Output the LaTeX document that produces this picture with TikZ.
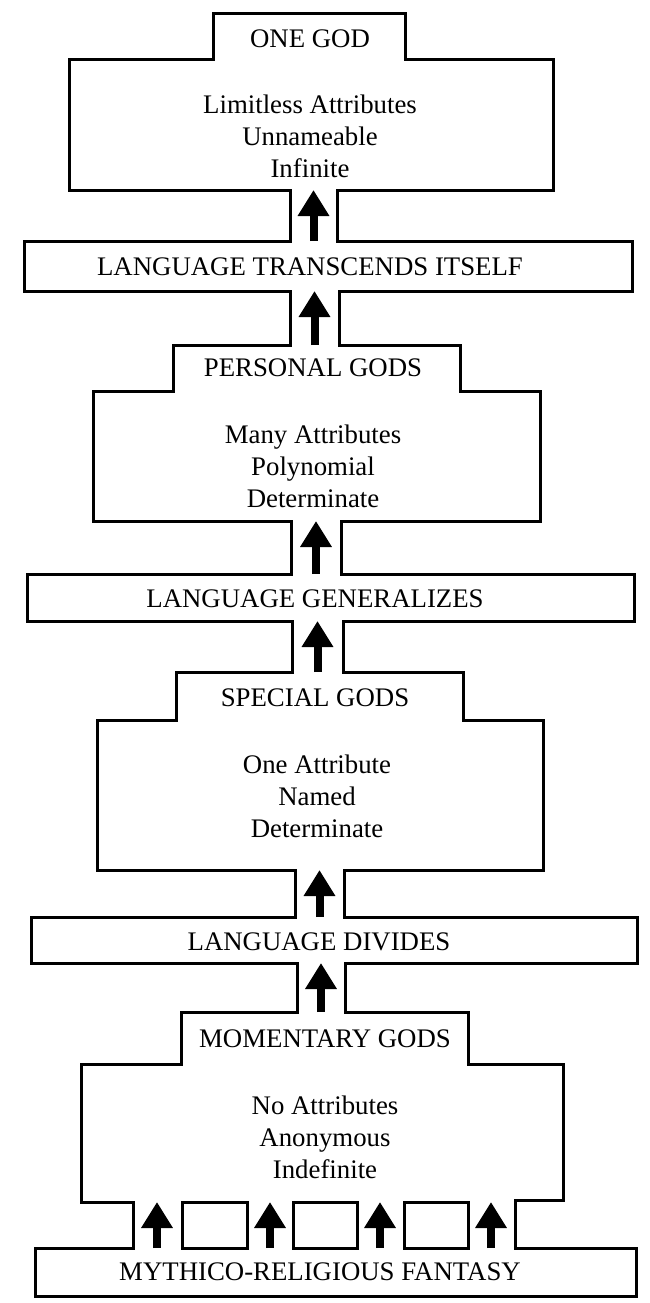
\documentclass[tikz,border=0pt]{standalone}
\usepackage{fontspec}
\setmainfont{Liberation Serif}
\usetikzlibrary{arrows.meta}

\begin{document}
\begin{tikzpicture}[x=1pt, y=-1pt,
  every node/.style={font=\fontsize{26.8}{32}\selectfont, inner sep=0pt},
  body/.style={align=center},
  wall/.style={line width=3pt, line join=miter},
  lift/.style={line width=8pt, -{Triangle[width=30pt,length=26pt]}}]
  \useasboundingbox (0,0) rectangle (650,1303);
  % outline of all stages, one path
  \draw[wall] (213,14) -- (405,14) -- (405,60) -- (553,60) -- (553,190) -- (337,190) -- (337,241)
    -- (632,241) -- (632,291) -- (339,291) -- (339,345) -- (460,345) -- (460,391) -- (540,391)
    -- (540,521) -- (341,521) -- (341,574) -- (634,574) -- (634,621) -- (343,621) -- (343,672)
    -- (463,672) -- (463,720) -- (543,720) -- (543,870) -- (344,870) -- (344,917) -- (637,917)
    -- (637,963) -- (345,963) -- (345,1012) -- (468,1012) -- (468,1064) -- (563,1064) -- (563,1200)
    -- (515,1200) -- (515,1248) -- (636,1248) -- (636,1296) -- (35,1296) -- (35,1248) -- (133,1248)
    -- (133,1202) -- (81,1202) -- (81,1064) -- (181,1064) -- (181,1012) -- (297,1012) -- (297,963)
    -- (31,963) -- (31,917) -- (295,917) -- (295,870) -- (97,870) -- (97,720) -- (176,720)
    -- (176,672) -- (292,672) -- (292,621) -- (27,621) -- (27,574) -- (291,574) -- (291,521)
    -- (93,521) -- (93,391) -- (173,391) -- (173,345) -- (290,345) -- (290,291) -- (24,291)
    -- (24,241) -- (290,241) -- (290,190) -- (69,190) -- (69,60) -- (213,60) -- cycle;
  % pillars between the fantasy and the momentary gods
  \draw[wall] (182,1202) rectangle (247,1248);
  \draw[wall] (293,1202) rectangle (357,1248);
  \draw[wall] (404,1202) rectangle (468,1248);

  \node (onegod) at (310,39) {ONE GOD};
  \node[body] (onegodattr) at (310,136) {Limitless Attributes\\Unnameable\\Infinite};
  \node (transcends) at (310,267) {LANGUAGE TRANSCENDS ITSELF};
  \node (personal) at (313,368) {PERSONAL GODS};
  \node[body] (personalattr) at (313,466) {Many Attributes\\Polynomial\\Determinate};
  \node (generalizes) at (315,599) {LANGUAGE GENERALIZES};
  \node (special) at (315,698) {SPECIAL GODS};
  \node[body] (specialattr) at (317,796) {One Attribute\\Named\\Determinate};
  \node (divides) at (319,942) {LANGUAGE DIVIDES};
  \node (momentary) at (325,1039) {MOMENTARY GODS};
  \node[body] (momentaryattr) at (325,1137) {No Attributes\\Anonymous\\Indefinite};
  \node (fantasy) at (320,1272) {MYTHICO-RELIGIOUS FANTASY};

  % arrow ends
  \coordinate (g1foot) at (313.5,241);  \coordinate (g1tip) at (313.5,190);
  \coordinate (g2foot) at (314.5,345);  \coordinate (g2tip) at (314.5,291);
  \coordinate (g3foot) at (316,574);    \coordinate (g3tip) at (316,521);
  \coordinate (g4foot) at (317.5,672);  \coordinate (g4tip) at (317.5,621);
  \coordinate (g5foot) at (319.5,917);  \coordinate (g5tip) at (319.5,870);
  \coordinate (g6foot) at (321,1012);   \coordinate (g6tip) at (321,963);
  \coordinate (b1foot) at (157,1248);   \coordinate (b1tip) at (157,1202);
  \coordinate (b2foot) at (270,1248);   \coordinate (b2tip) at (270,1202);
  \coordinate (b3foot) at (380,1248);   \coordinate (b3tip) at (380,1202);
  \coordinate (b4foot) at (491,1248);   \coordinate (b4tip) at (491,1202);

  \draw[lift] (g1foot) -- (g1tip);
  \draw[lift] (g2foot) -- (g2tip);
  \draw[lift] (g3foot) -- (g3tip);
  \draw[lift] (g4foot) -- (g4tip);
  \draw[lift] (g5foot) -- (g5tip);
  \draw[lift] (g6foot) -- (g6tip);
  \draw[lift] (b1foot) -- (b1tip);
  \draw[lift] (b2foot) -- (b2tip);
  \draw[lift] (b3foot) -- (b3tip);
  \draw[lift] (b4foot) -- (b4tip);
\end{tikzpicture}
\end{document}
